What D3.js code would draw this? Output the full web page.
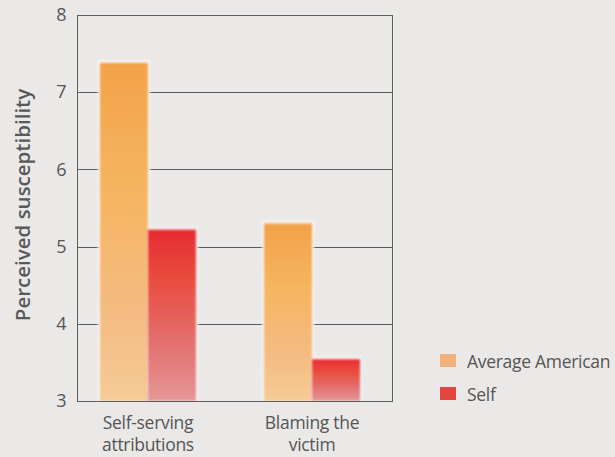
<!DOCTYPE html>
<html><head><meta charset="utf-8">
<script src="https://cdn.jsdelivr.net/npm/d3@7"></script>
<style>
html,body{margin:0;padding:0;background:#ebe9e7;}
svg{display:block;}
</style></head>
<body>
<script>
const categories = [["Self-serving","attributions"],["Blaming the","victim"]];
const seriesNames = ["Average American","Self"];
const averageAmerican = [7.38, 5.3];
const self = [5.22, 3.54];
const yTicks = [3,4,5,6,7,8];

const W=615,H=457;
const m={left:77,right:392,top:15,bottom:401};
const FONT="Open Sans, sans-serif";
const svg=d3.select("body").append("svg").attr("width",W).attr("height",H);
const defs=svg.append("defs");
const gA=defs.append("linearGradient").attr("id","gA").attr("x1",0).attr("y1",0).attr("x2",0).attr("y2",1);
[[0,"#f3a043"],[0.4,"#f5b45e"],[0.75,"#f4bb80"],[1,"#f5ca94"]].forEach(s=>gA.append("stop").attr("offset",s[0]).attr("stop-color",s[1]));
const gS=defs.append("linearGradient").attr("id","gS").attr("x1",0).attr("y1",0).attr("x2",0).attr("y2",1);
[[0,"#e6262b"],[0.3,"#e9483a"],[0.7,"#e27070"],[1,"#e69494"]].forEach(s=>gS.append("stop").attr("offset",s[0]).attr("stop-color",s[1]));
const glow=defs.append("filter").attr("id","glow").attr("x","-30%").attr("y","-30%").attr("width","160%").attr("height","160%");
glow.append("feGaussianBlur").attr("stdDeviation",1.2);

const y=d3.scaleLinear().domain([3,8]).range([m.bottom,m.top]);
const x0=d3.scaleBand().domain(categories.map((c,i)=>i)).range([m.left,383]).paddingInner(0.415).paddingOuter(0.14);
const x1=d3.scaleBand().domain([0,1]).range([0,x0.bandwidth()]);

// gridlines
svg.append("g").selectAll("line").data(yTicks.slice(1,-1)).join("line")
 .attr("x1",m.left).attr("x2",m.right).attr("y1",d=>Math.round(y(d))+0.5).attr("y2",d=>Math.round(y(d))+0.5)
 .attr("stroke","#5a5a5a").attr("stroke-width",1);

// bars
const data=categories.map((c,i)=>[averageAmerican[i],self[i]]);
const groups=svg.append("g").selectAll("g").data(data).join("g").attr("transform",(d,i)=>`translate(${x0(i)},0)`);
groups.selectAll("rect.halo").data(d=>d).join("rect").attr("class","halo")
 .attr("x",(d,j)=>x1(j)-2).attr("width",x1.bandwidth()+4)
 .attr("y",d=>y(d)-3).attr("height",d=>y(3)-y(d)+3)
 .attr("fill","#f6f3f3").attr("filter","url(#glow)");
groups.selectAll("rect.bar").data(d=>d).join("rect").attr("class","bar")
 .attr("x",(d,j)=>x1(j)).attr("width",x1.bandwidth())
 .attr("y",d=>y(d)).attr("height",d=>y(3)-y(d))
 .attr("fill",(d,j)=>j===0?"url(#gA)":"url(#gS)").attr("filter","url(#glow)").attr("opacity",0.97);

// frame
svg.append("rect").attr("x",m.left+0.5).attr("y",m.top+0.5).attr("width",m.right-m.left).attr("height",m.bottom-m.top)
 .attr("fill","none").attr("stroke","#5f5f5f").attr("stroke-width",1);

// y axis
const yAxis=d3.axisLeft(y).tickValues(yTicks).tickFormat(d3.format("d")).tickSize(0).tickPadding(11);
const ya=svg.append("g").attr("transform",`translate(${m.left+0.5},0)`).call(yAxis);
ya.select(".domain").remove();
ya.selectAll("text").attr("font-family",FONT).attr("font-size",18).attr("fill","#555");

// x labels
const xl=svg.append("g");
categories.forEach((c,i)=>{
  const cx=x0(i)+x0.bandwidth()/2;
  const t=xl.append("text").attr("x",cx).attr("y",429).attr("text-anchor","middle")
   .attr("font-family",FONT).attr("font-size",17.5).attr("fill","#555").attr("letter-spacing",-0.3);
  c.forEach((line,k)=>t.append("tspan").attr("x",cx).attr("dy",k===0?0:22).text(line));
});

// y label
svg.append("text").attr("transform",`translate(30,205) rotate(-90)`).attr("text-anchor","middle")
 .attr("font-family",FONT).attr("font-weight",600).attr("font-size",20.5).attr("fill","#585858")
 .text("Perceived susceptibility");

// legend
const lg=svg.append("g");
seriesNames.forEach((n,i)=>{
  const yy=354+i*33;
  lg.append("rect").attr("x",440).attr("y",yy).attr("width",16).attr("height",13)
   .attr("fill",i===0?"#f0b27a":"#e2453e");
  lg.append("text").attr("x",467).attr("y",yy+14).attr("font-family",FONT).attr("font-size",17.5)
   .attr("fill","#555").attr("letter-spacing",-0.3).text(n);
});
</script>
</body></html>
